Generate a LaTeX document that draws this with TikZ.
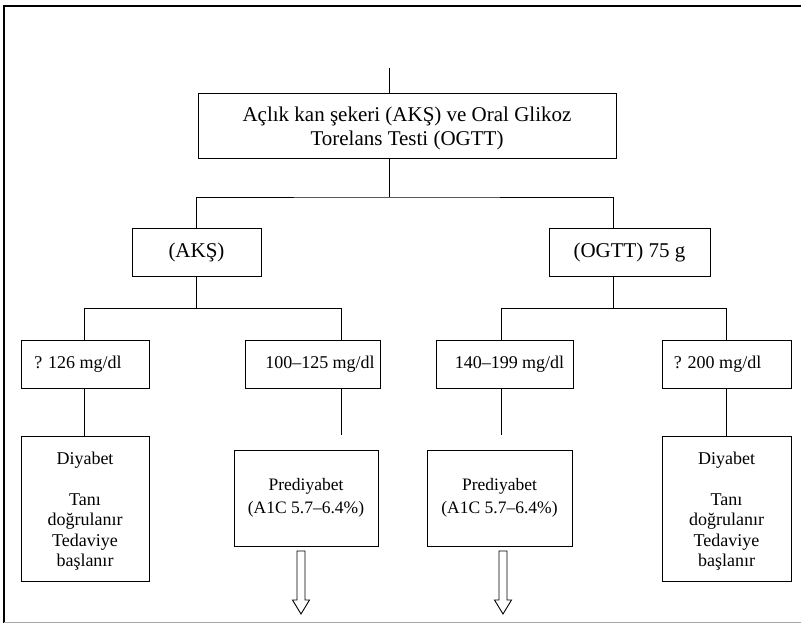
\documentclass[tikz,border=0pt]{standalone}
\usepackage{fontspec}
\setmainfont{Liberation Serif}
\begin{document}
\begin{tikzpicture}[x=1pt,y=-1pt,
  box/.style={draw,line width=0.9pt,inner sep=0pt,align=center},
  big/.style={font=\fontsize{21}{21}\selectfont},
  mid/.style={font=\fontsize{18}{20}\selectfont},
  small/.style={font=\fontsize{18}{20.5}\selectfont},
  pre/.style={font=\fontsize{17.5}{21}\selectfont},
  conn/.style={line width=0.9pt}]
\useasboundingbox (0,0) rectangle (801,624);
% frame
\draw[line width=1.2pt] (4,623) -- (4,6) -- (801,6);
\draw[gray!70,line width=1pt] (4,622) -- (801,622);
% boxes
\node[box,big,minimum width=418pt,minimum height=65pt] (top) at (407,125.5)
  {\rule{0pt}{20pt}Açlık kan şekeri (AKŞ) ve Oral Glikoz\\[3pt]Torelans Testi (OGTT)};
\node[box,big,minimum width=129pt,minimum height=48pt] (aks) at (196.5,252) {(AKŞ)};
\node[box,big,minimum width=161pt,minimum height=48pt] (ogtt) at (629.5,252) {(OGTT) 75 g};
\node[box,mid,minimum width=128pt,minimum height=48pt] (m126) at (85,364) {? 126 mg/dl\hspace{14pt}};
\node[box,mid,minimum width=135pt,minimum height=48pt] (m100) at (312.5,364) {\hspace{15pt}100–125 mg/dl};
\node[box,mid,minimum width=137pt,minimum height=48pt] (m140) at (504.5,364) {\hspace{10pt}140–199 mg/dl};
\node[box,mid,minimum width=129pt,minimum height=48pt] (m200) at (726.5,364) {? 200 mg/dl\hspace{18pt}};
\node[box,small,minimum width=128pt,minimum height=145pt] (dL) at (85,508.5)
  {\rule{0pt}{18pt}Diyabet\\[20pt]Tanı\\doğrulanır\\Tedaviye\\başlanır};
\node[box,pre,minimum width=144pt,minimum height=96pt] (pL) at (306,498)
  {Prediyabet\\[2pt](A1C 5.7–6.4\%)};
\node[box,pre,minimum width=145pt,minimum height=96pt] (pR) at (499.5,498)
  {Prediyabet\\[2pt](A1C 5.7–6.4\%)};
\node[box,small,minimum width=129pt,minimum height=145pt] (dR) at (726.5,508.5)
  {\rule{0pt}{18pt}Diyabet\\[20pt]Tanı\\doğrulanır\\Tedaviye\\başlanır};
% junction coordinates
\coordinate (c0) at (389,68);
\coordinate (j1) at (389,197);
\coordinate (j2) at (613,197);
\coordinate (hL) at (84,308);
\coordinate (hR) at (341,308);
\coordinate (gL) at (501,308);
\coordinate (gR) at (726,308);
\coordinate (e1) at (341,435);
\coordinate (e2) at (501,435);
\coordinate (a1) at (301,551);
\coordinate (a2) at (503,551);
% connectors
\draw[conn] (c0) -- (c0 |- top.north);
\draw[conn] (top.south -| j1) -- (j1);
\draw[conn] (aks.north) |- (j1) -- (j2) -- (j2 |- ogtt.north);
\draw[conn] (aks.south) -- (aks.south |- hL);
\draw[conn] (m126.north -| hL) -- (hL) -- (hR) -- (m100.north -| hR);
\draw[conn] (ogtt.south -| j2) -- (j2 |- gL);
\draw[conn] (m140.north -| gL) -- (gL) -- (gR) -- (m200.north -| gR);
\draw[conn] (m126.south -| hL) -- (dL.north -| hL);
\draw[conn] (m100.south -| e1) -- (e1);
\draw[conn] (m140.south -| e2) -- (e2);
\draw[conn] (m200.south -| gR) -- (dR.north -| gR);
% hollow arrows
\draw[conn] (a1) ++(-4,0) -- ++(0,49) -- ++(-4.5,0) -- ++(8.5,14) -- ++(8.5,-14) -- ++(-4.5,0) -- ++(0,-49) -- cycle;
\draw[conn] (a2) ++(-4,0) -- ++(0,49) -- ++(-4.5,0) -- ++(8.5,14) -- ++(8.5,-14) -- ++(-4.5,0) -- ++(0,-49) -- cycle;
\end{tikzpicture}
\end{document}
